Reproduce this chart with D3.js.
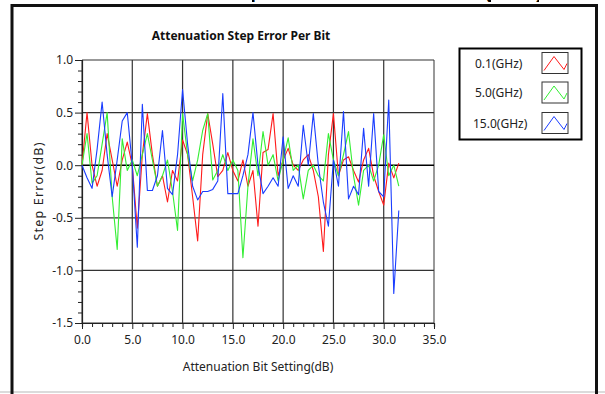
<!DOCTYPE html>
<html><head><meta charset="utf-8">
<script src="https://cdn.jsdelivr.net/npm/d3@7"></script>
<style>
html,body{margin:0;padding:0;background:#fff;}
svg{display:block;}
text{font-family:"Noto Sans","Liberation Sans",sans-serif;}
</style></head>
<body>
<svg id="chart" width="605" height="394"></svg>
<script>
const bits = [0,0.5,1,1.5,2,2.5,3,3.5,4,4.5,5,5.5,6,6.5,7,7.5,8,8.5,9,9.5,10,10.5,11,11.5,12,12.5,13,13.5,14,14.5,15,15.5,16,16.5,17,17.5,18,18.5,19,19.5,20,20.5,21,21.5,22,22.5,23,23.5,24,24.5,25,25.5,26,26.5,27,27.5,28,28.5,29,29.5,30,30.5,31,31.5];
const err01 = [0,0.5,0.0,-0.2,-0.05,0.3,0.05,-0.2,0.05,0.22,0.0,-0.6,0.1,0.49,0.1,-0.2,-0.1,-0.35,-0.05,-0.15,0.24,0.1,-0.3,-0.72,0.1,0.49,0.2,-0.11,-0.05,0.12,-0.05,-0.15,0.05,-0.2,-0.05,-0.58,0.12,0.15,0.49,-0.1,0.05,0.16,0.0,-0.05,0.05,0.1,-0.05,-0.3,-0.82,0.1,0.49,-0.1,0.05,0.08,-0.05,-0.16,0.05,0.16,-0.1,-0.25,-0.38,0.02,-0.12,0.02];
const err50 = [0,0.3,-0.17,-0.1,0.2,0.5,-0.3,-0.8,0.25,-0.05,0.05,-0.1,0.1,0.3,0.05,-0.2,-0.1,0.05,-0.25,-0.62,0.49,0.1,-0.15,0.05,0.33,0.49,-0.14,-0.05,0.1,-0.05,0.05,-0.05,-0.88,-0.2,0.25,-0.1,0.32,0.0,0.1,-0.15,0.05,0.26,-0.05,0.0,-0.32,-0.05,0.0,-0.1,-0.15,0.3,0.05,-0.1,0.1,0.32,-0.1,-0.38,-0.05,0.0,-0.15,0.0,0.29,-0.1,0.0,-0.2];
const err150 = [0,-0.12,-0.22,0.15,0.6,0.1,-0.3,0.05,0.42,0.5,0.0,-0.78,0.58,-0.24,-0.24,-0.1,0.33,-0.22,-0.28,0.1,0.72,0.2,-0.2,-0.33,-0.25,-0.25,-0.23,-0.15,0.68,-0.27,-0.27,-0.27,-0.1,0.1,0.5,0.0,-0.27,-0.2,-0.12,-0.2,0.27,-0.22,-0.1,-0.2,0.38,0.0,0.49,0.0,-0.35,-0.58,0.05,-0.2,0.51,-0.32,-0.2,-0.28,0.35,-0.2,0.49,-0.25,-0.3,0.62,-1.22,-0.43];
const seriesNames = ["0.1(GHz)","5.0(GHz)","15.0(GHz)"];
const seriesColors = ["#ff1a1a","#33ee33","#1a3dff"];
const xTicks = [0,5,10,15,20,25,30,35];
const yTicks = [1.0,0.5,0.0,-0.5,-1.0,-1.5];
const chartTitle = "Attenuation Step Error Per Bit";
const cutTitle = "Attenuation Step Error Per Bit (dB)";
const xLabel = "Attenuation Bit Setting(dB)";
const yLabel = "Step Error(dB)";

const fmt = d => d3.format(".1f")(d).replace("\u2212","-");

const svg = d3.select("#chart");
svg.append("rect").attr("width",605).attr("height",394).attr("fill","#fff");

// cut-off big title above the frame: only tiny descender tips show, as in the reference
const cp = svg.append("defs").append("clipPath").attr("id","topclip");
[[252,10],[483,8],[531,8]].forEach(([cx,w])=>{
  cp.append("rect").attr("x",cx).attr("y",-40).attr("width",w).attr("height",42.5);
});
svg.append("text").attr("clip-path","url(#topclip)")
  .attr("x",8).attr("y",-4.5).attr("text-anchor","start")
  .attr("font-size",29).attr("font-weight","bold").attr("letter-spacing","1.75px").attr("fill","#000")
  .style("font-family","'Liberation Sans',sans-serif").text(cutTitle);

// outer frame
svg.append("line").attr("x1",0).attr("x2",605).attr("y1",392).attr("y2",392).attr("stroke","#cfcfcf").attr("stroke-width",1.5);
svg.append("path").attr("d","M12,400V5.5H596.5V400").attr("fill","none").attr("stroke","#111").attr("stroke-width",3);

const x = d3.scaleLinear().domain([0,35]).range([82,434]);
const y = d3.scaleLinear().domain([-1.5,1]).range([323,60]);

// grid
const g = svg.append("g");
g.selectAll(".vg").data(xTicks).join("line")
  .attr("x1",d=>x(d)).attr("x2",d=>x(d)).attr("y1",y(1)).attr("y2",y(-1.5))
  .attr("stroke",d=>(d===0||d===35)?"#555":"#333").attr("stroke-width",1.2);
g.selectAll(".hg").data(yTicks).join("line")
  .attr("x1",x(0)).attr("x2",x(35)).attr("y1",d=>y(d)).attr("y2",d=>y(d))
  .attr("stroke",d=>d===0?"#000":"#333").attr("stroke-width",d=>d===0?1.5:1.2);

// axes
const xAxis = d3.axisBottom(x).tickValues(d3.range(0,35.01,1)).tickSize(4).tickFormat(d=> xTicks.includes(d)? fmt(d):"");
const ax = svg.append("g").attr("transform",`translate(0,${y(-1.5)})`).call(xAxis);
ax.select(".domain").attr("stroke","#222").attr("stroke-width",1.2);
ax.selectAll(".tick line").attr("stroke","#222").attr("y2",d=>xTicks.includes(d)?6:4);
ax.selectAll(".tick text").attr("font-size",12).attr("fill","#222").attr("y",10).attr("dy","0.95em")
  .style("font-family","'Noto Sans',sans-serif");

const yAxis = d3.axisLeft(y).tickValues(d3.range(-15,10.5,1).map(v=>v/10)).tickSize(4)
  .tickFormat(d=> yTicks.some(t=>Math.abs(t-d)<1e-9)? fmt(d):"");
const ay = svg.append("g").attr("transform",`translate(${x(0)},0)`).call(yAxis);
ay.select(".domain").attr("stroke","#222").attr("stroke-width",1.2);
ay.selectAll(".tick line").attr("stroke","#222").attr("x2",d=>yTicks.some(t=>Math.abs(t-d)<1e-9)?-7:-4);
ay.selectAll(".tick text").attr("font-size",12).attr("fill","#222").attr("x",-9)
  .style("font-family","'Noto Sans',sans-serif");

// series
const line = d3.line().x((d,i)=>x(bits[i])).y(d=>y(d));
[err01,err50,err150].forEach((s,k)=>{
  svg.append("path").datum(s).attr("d",line).attr("fill","none")
    .attr("stroke",seriesColors[k]).attr("stroke-width",1.1).attr("stroke-linejoin","round");
});

// titles
svg.append("text").attr("x",241).attr("y",40).attr("text-anchor","middle")
  .attr("font-size",12).attr("font-weight","bold").attr("fill","#111").text(chartTitle);
svg.append("text").attr("x",258).attr("y",371).attr("text-anchor","middle")
  .attr("font-size",12).attr("fill","#222").text(xLabel);
svg.append("text").attr("transform","translate(43,191) rotate(-90)").attr("text-anchor","middle")
  .attr("font-size",12.5).attr("letter-spacing","1.2px").attr("fill","#222").text(yLabel);

// legend
const lg = svg.append("g");
lg.append("rect").attr("x",459.5).attr("y",48.5).attr("width",122).attr("height",91)
  .attr("fill","#fff").attr("stroke","#000").attr("stroke-width",2);
const rowY = [63.5,93,123.5];
seriesNames.forEach((n,k)=>{
  lg.append("text").attr("x",k===2?473:475).attr("y",rowY[k]).attr("dy","0.35em")
    .attr("font-size",12).attr("fill","#222").text(n);
  const bx=542, by=rowY[k]-11;
  lg.append("rect").attr("x",bx).attr("y",by).attr("width",26).attr("height",21)
    .attr("fill","#fff").attr("stroke","#333").attr("stroke-width",1);
  lg.append("path").attr("d",`M${bx+2},${by+18}L${bx+12},${by+4}L${bx+22},${by+17}L${bx+25},${by+11}`)
    .attr("fill","none").attr("stroke",seriesColors[k]).attr("stroke-width",1);
});
</script>
</body></html>
